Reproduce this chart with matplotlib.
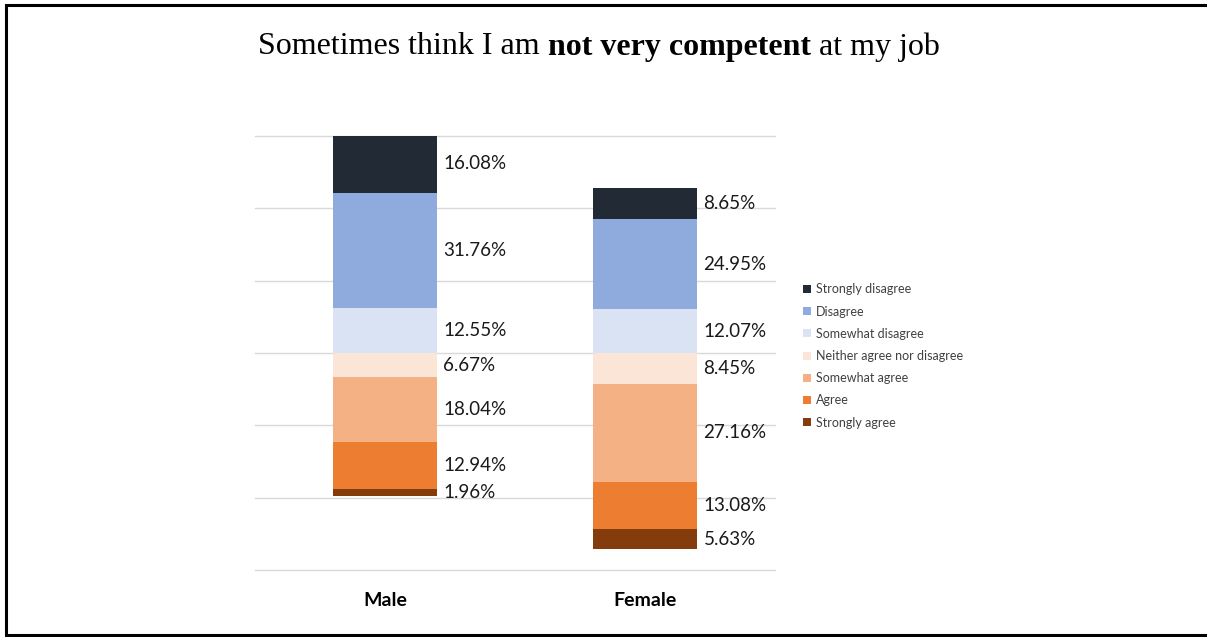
import matplotlib
matplotlib.use("Agg")
import matplotlib.pyplot as plt
from matplotlib.patches import Patch
from matplotlib.lines import Line2D

categories = ["Male", "Female"]
strongly_disagree = [16.08, 8.65]
disagree = [31.76, 24.95]
somewhat_disagree = [12.55, 12.07]
neither = [6.67, 8.45]
somewhat_agree = [18.04, 27.16]
agree = [12.94, 13.08]
strongly_agree = [1.96, 5.63]

title_parts = [("Sometimes think I am ", "normal"), ("not very competent", "bold"), (" at my job", "normal")]

colors = {
    "Strongly disagree": "#222A35",
    "Disagree": "#8FAADC",
    "Somewhat disagree": "#DAE3F3",
    "Neither agree nor disagree": "#FBE5D6",
    "Somewhat agree": "#F4B183",
    "Agree": "#ED7D31",
    "Strongly agree": "#843C0C",
}

W, H = 1207, 637
fig = plt.figure(figsize=(W / 100, H / 100), dpi=100)
ax = fig.add_axes([255 / W, 1 - 570 / H, 520 / W, 434 / H])

x = list(range(len(categories)))
width = 0.4

up_series = [("Somewhat disagree", somewhat_disagree), ("Disagree", disagree), ("Strongly disagree", strongly_disagree)]
down_series = [("Neither agree nor disagree", neither), ("Somewhat agree", somewhat_agree), ("Agree", agree), ("Strongly agree", strongly_agree)]

label_font = dict(family=["Lato", "DejaVu Sans"], fontsize=13.5, color="#1a1a1a")

base = [0.0] * len(categories)
for name, vals in up_series:
    ax.bar(x, vals, width, bottom=base, color=colors[name], zorder=3, linewidth=0)
    for i, v in enumerate(vals):
        ax.text(x[i] + width / 2 + 0.025, base[i] + v / 2, f"{v:.2f}%", va="center", ha="left", **label_font)
    base = [b + v for b, v in zip(base, vals)]

base = [0.0] * len(categories)
for name, vals in down_series:
    neg = [-v for v in vals]
    ax.bar(x, neg, width, bottom=base, color=colors[name], zorder=3, linewidth=0)
    for i, v in enumerate(vals):
        ax.text(x[i] + width / 2 + 0.025, base[i] - v / 2, f"{v:.2f}%", va="center", ha="left", **label_font)
    base = [b - v for b, v in zip(base, vals)]

ax.set_xlim(-0.5, 1.5)
ax.set_ylim(-60, 60)
ax.set_yticks([-60, -40, -20, 0, 20, 40, 60])
ax.set_yticklabels([])
ax.tick_params(axis="y", length=0)
ax.yaxis.grid(True, color="#D9D9D9", linewidth=1, zorder=0)
for gl in ax.get_ygridlines():
    gl.set_clip_on(False)
ax.set_xticks(x)
ax.set_xticklabels(categories, fontweight="bold", fontsize=14, family=["Lato", "DejaVu Sans"])
ax.tick_params(axis="x", length=0, pad=16)
for s in ax.spines.values():
    s.set_visible(False)

# Legend
order = ["Strongly disagree", "Disagree", "Somewhat disagree", "Neither agree nor disagree",
         "Somewhat agree", "Agree", "Strongly agree"]
handles = [Patch(facecolor=colors[n], edgecolor="none", label=n) for n in order]
fig.legend(handles=handles, loc="upper left", bbox_to_anchor=(792 / W, 1 - 272 / H),
           frameon=False, prop=dict(family=["Lato", "DejaVu Sans"], size=9),
           handlelength=0.6, handleheight=0.6, handletextpad=0.4, labelspacing=0.82,
           labelcolor="#404040")

# Title with bold part
fig.canvas.draw()
renderer = fig.canvas.get_renderer()
texts = []
for s, wgt in title_parts:
    t = fig.text(0, 1 - 47 / H, s, fontsize=23, fontweight=wgt, family="Liberation Serif",
                 va="center", ha="left", color="black")
    texts.append(t)
widths = [t.get_window_extent(renderer).width for t in texts]
total = sum(widths)
xpos = 599 - total / 2
for t, w in zip(texts, widths):
    t.set_x(xpos / W)
    xpos += w

# Border (left, top, bottom)
bx = [W + 20, 5.5, 5.5, W + 20]
by = [4.5, 4.5, 635, 635]
fig.add_artist(Line2D([v / W for v in bx], [1 - v / H for v in by], transform=fig.transFigure,
                      color="black", linewidth=2.2, solid_joinstyle="miter"))

fig.savefig("out.png", dpi=100)
